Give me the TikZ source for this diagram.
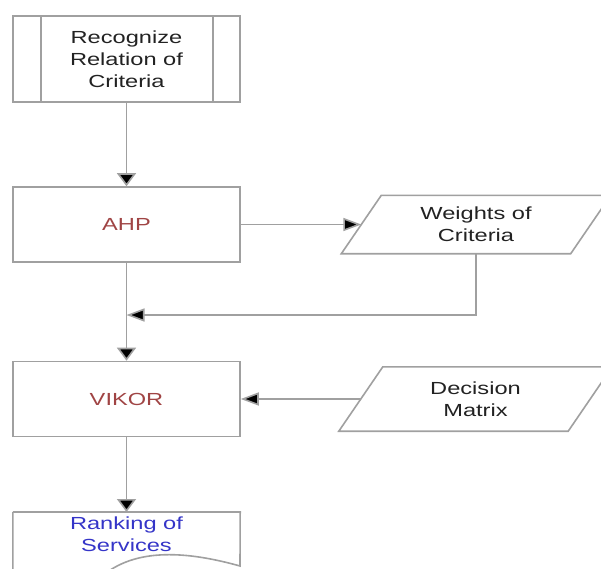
\documentclass[tikz,border=0pt]{standalone}
\usepackage{fontspec}
\setmainfont{Liberation Sans}[FakeStretch=1.35]
\usetikzlibrary{arrows.meta,calc}
\definecolor{linegray}{HTML}{A0A0A0}
\definecolor{txtdark}{HTML}{222222}
\definecolor{methodred}{HTML}{A04444}
\definecolor{resultblue}{HTML}{3535C8}
\begin{document}
\begin{tikzpicture}[x=1pt,y=-1pt,
  every node/.style={font=\fontsize{17.5}{22}\selectfont, text=txtdark, align=center, inner sep=0pt},
  proc/.style={draw=linegray, line width=1.6pt, minimum width=227pt, minimum height=75pt},
  dataslot/.style={minimum width=229pt},
  edge/.style={draw=linegray, line width=1.6pt},
  varr/.style={edge, -{Triangle[length=13pt,width=19pt,fill=black]}},
  harr/.style={edge, -{Triangle[length=18pt,width=13pt,fill=black]}}]
\clip (0,0) rectangle (601,568);
\fill[white] (0,0) rectangle (601,568);

% predefined process: recognise criteria relations
\node[proc, minimum height=86pt] (rec) at (126.5,59) {Recognize\\Relation of\\Criteria};
\draw[edge] ([xshift=29pt]rec.north west) -- ([xshift=29pt]rec.south west);
\draw[edge] ([xshift=-28pt]rec.north east) -- ([xshift=-28pt]rec.south east);

% AHP step
\node[proc, text=methodred] (ahp) at (126.5,224.5) {AHP};

% VIKOR step
\node[proc, text=methodred] (vikor) at (126.5,399) {VIKOR};

% data: weights of criteria
\node[dataslot, minimum height=58pt] (w) at (476,224.5) {Weights of\\Criteria};
\draw[edge] ([xshift=-20pt]w.south west) -- ([xshift=20pt]w.north west)
  -- ([xshift=20pt]w.north east) -- ([xshift=-20pt]w.south east) -- cycle;

% data: decision matrix
\node[dataslot, minimum height=64pt] (dm) at (475.5,399) {Decision\\Matrix};
\draw[edge] ([xshift=-22pt]dm.south west) -- ([xshift=22pt]dm.north west)
  -- ([xshift=22pt]dm.north east) -- ([xshift=-22pt]dm.south east) -- cycle;

% document: ranking of services
\node[minimum width=227pt, minimum height=44pt, anchor=north] (rank) at (126.5,512) {};
\draw[edge] (rank.north west) -- (rank.north east) -- (240,566)
  .. controls (190,552) and (135,546) .. (100,578) -- (13,600) -- (rank.north west);
\node[text=resultblue] (ranktxt) at (126.5,534) {Ranking of\\Services};

% flow
\coordinate (join) at (126.5,315);
\draw[varr] (rec) -- (ahp);
\draw[harr] (ahp.east) -- (w.west);
\draw[harr] (w.south) |- (join);
\draw[varr] (ahp) -- (vikor);
\draw[harr] (dm.west) -- (vikor.east);
\draw[varr] (vikor) -- (rank.north);
\end{tikzpicture}
\end{document}
